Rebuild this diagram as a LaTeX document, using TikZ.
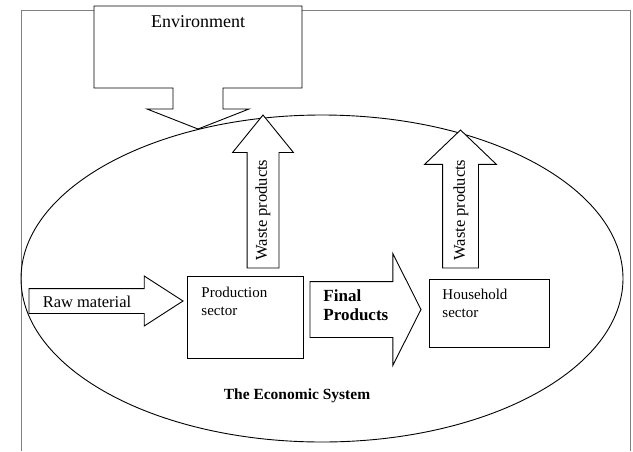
\documentclass[tikz,border=0pt]{standalone}
\usepackage{fontspec}
\setmainfont{Liberation Serif}
\usetikzlibrary{shapes.arrows}

\begin{document}
\begin{tikzpicture}[x=1pt, y=-1pt, line width=0.9pt,
        box/.style={draw, rectangle, inner sep=0pt, outer sep=0pt},
        blockarrow/.style={single arrow, draw, fill=white, inner xsep=0pt,
            outer sep=0pt, minimum width=0pt},
        frame/.style={draw=gray, line width=1pt},
        lbl/.style={font=\fontsize{15}{18}\selectfont, inner sep=0pt, align=left}]
        \useasboundingbox (0,0) rectangle (633,451);
        % frame round the picture
        \draw[frame] (21.7,451) -- (21.7,10) -- (94,10);
        \draw[frame] (302,10) -- (630,10) -- (630,451);
        % the economic system
        \draw (322,278.5) ellipse [x radius=301, y radius=163.5];
        \node[font=\fontsize{15.5}{18}\selectfont\bfseries] (econ) at (297,396) {The Economic System};
        % environment with its arrow
        \draw (94,6) -- (302,6) -- (302,88) -- (223,88) -- (223,109) -- (249,109)
            -- (198,129) -- (147,109) -- (173,109) -- (173,88) -- (94,88) -- cycle;
        \node[font=\fontsize{18}{20}\selectfont] (env) at (198,22) {Environment};
        % sectors
        \node[box, minimum width=116, minimum height=82] (prod) at (245,317) {};
        \node[box, minimum width=120, minimum height=68] (house) at (489,313) {};
        \node[lbl, anchor=north west] (prodtxt) at (201,286.5) {Production\\sector};
        \node[lbl, anchor=north west] (housetxt) at (442,288.5) {Household\\sector};
        % flows
        \node[blockarrow, anchor=tail, minimum height=154, inner ysep=12,
            single arrow head extend=12.5, single arrow tip angle=65.6] (raw) at (29,301) {};
        \node[blockarrow, anchor=tail, minimum height=111, inner ysep=27.5,
            single arrow head extend=28, single arrow tip angle=126.5] (final) at (310,309.5) {};
        \node[blockarrow, anchor=tail, rotate=90, minimum height=153, inner ysep=15.5,
            single arrow head extend=14.5, single arrow tip angle=78.1] (wasteA) at (263,268) {};
        \node[blockarrow, anchor=tail, rotate=90, minimum height=138, inner ysep=17.5,
            single arrow head extend=18, single arrow tip angle=92.5] (wasteB) at (460.5,268) {};
        \node[font=\fontsize{16.5}{18}\selectfont] (rawtxt) at (87,302) {Raw material};
        \node[lbl, font=\fontsize{17}{19}\selectfont\bfseries, anchor=north west] (finaltxt) at (323,289.5) {Final\\Products};
        \node[font=\fontsize{16.5}{18}\selectfont, rotate=90] (wasteAtxt) at (263,210) {Waste products};
        \node[font=\fontsize{16.5}{18}\selectfont, rotate=90] (wasteBtxt) at (461,210) {Waste products};
\end{tikzpicture}
\end{document}
